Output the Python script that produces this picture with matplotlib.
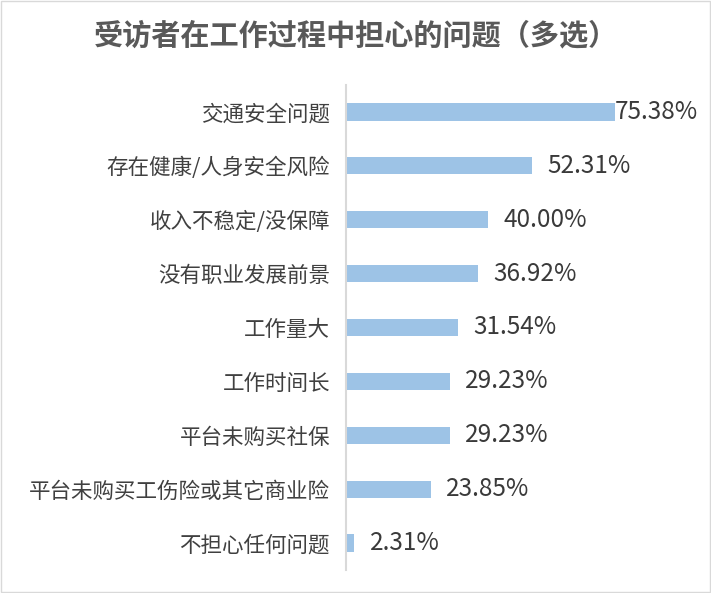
import matplotlib
matplotlib.use("Agg")
import matplotlib.pyplot as plt
from matplotlib.patches import Rectangle

plt.rcParams['font.family'] = ['Noto Sans CJK SC', 'DejaVu Sans']

categories = ["交通安全问题", "存在健康/人身安全风险", "收入不稳定/没保障", "没有职业发展前景",
              "工作量大", "工作时间长", "平台未购买社保", "平台未购买工伤险或其它商业险", "不担心任何问题"]
values = [75.38, 52.31, 40.00, 36.92, 31.54, 29.23, 29.23, 23.85, 2.31]
title = "受访者在工作过程中担心的问题（多选）"

fig = plt.figure(figsize=(7.11, 5.93), dpi=100)
ax = fig.add_axes([0.4866, 0.0388, 0.4009, 0.8179])

y = list(range(len(categories)))
ax.barh(y, values, height=0.32, color="#9dc3e6")
ax.set_ylim(len(categories) - 0.5, -0.5)
ax.set_xlim(0, 80)
ax.set_yticks(y)
ax.set_yticklabels(categories, fontsize=15.5, color="#404040")
ax.tick_params(axis='y', length=0, pad=11.5)
ax.set_xticks([])
for s in ['top', 'right', 'bottom']:
    ax.spines[s].set_visible(False)
ax.spines['left'].set_color("#d9d9d9")
ax.spines['left'].set_linewidth(1.5)

for i, v in enumerate(values):
    off = 0.0 if v > 70 else 4.3
    ax.text(v + off, i, f"{v:.2f}%", va='center', ha='left', fontsize=17.5, color="#3a3a3a")

fig.text(0.5, 0.941, title, ha='center', va='center', fontsize=21, fontweight='bold', color="#595959")
fig.patches.append(Rectangle((0.001, 0.001), 0.998, 0.998, transform=fig.transFigure,
                             fill=False, edgecolor="#d9d9d9", linewidth=1))
fig.savefig("out.png", dpi=100)
